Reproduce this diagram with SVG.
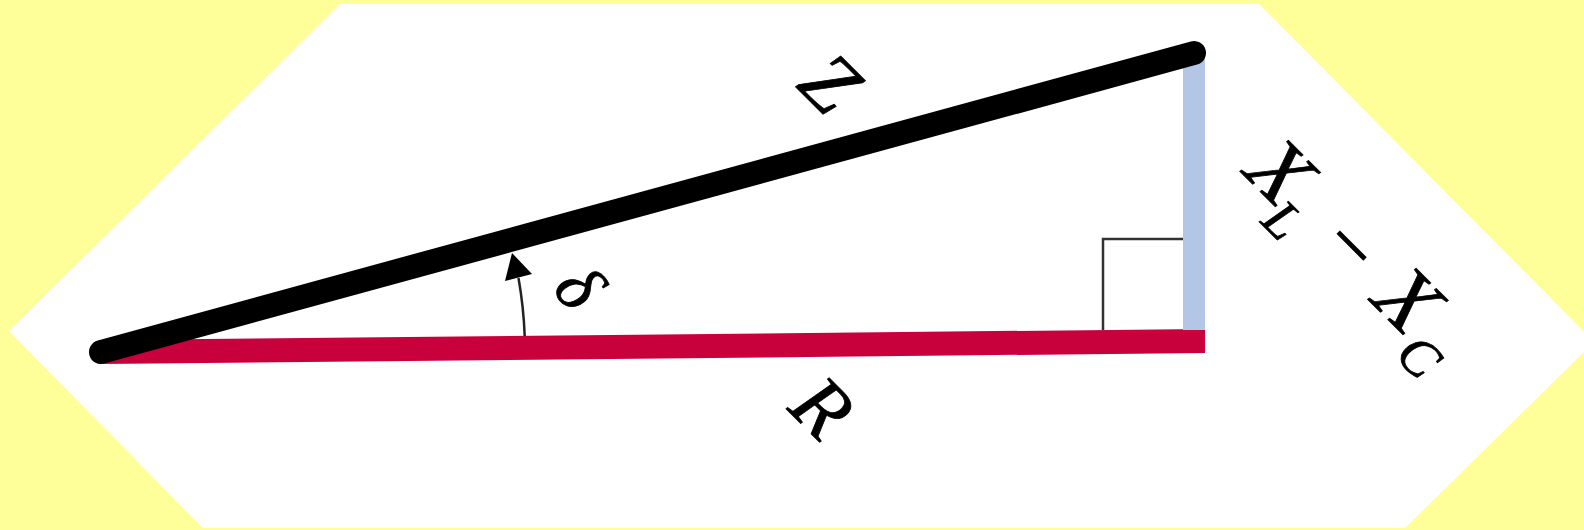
<svg xmlns="http://www.w3.org/2000/svg" width="1584" height="530" viewBox="0 0 1584 530">
<style>
.lbl{font-family:"Liberation Serif","Times New Roman",serif;font-style:italic;fill:#000;stroke:#000;stroke-width:0.8;}
</style>
<rect x="0" y="0" width="1584" height="530" fill="#FFFF99"/>
<polygon points="340,4 1259,4 1594,342 1405,528 203,528 9,331" fill="#FFFFFF"/>
<g id="connectors">
  <polygon id="R-side" points="100,340 1205,329 1205,353 100,364" fill="#C8003C"/>
  <rect id="X-side" x="1183" y="55" width="22" height="275" fill="#B4C6E6"/>
  <line id="Z-side" x1="101" y1="352" x2="1194" y2="53" stroke="#000" stroke-width="24" stroke-linecap="round"/>
  <polyline id="right-angle" points="1103,330 1103,239 1183,239" fill="none" stroke="#333" stroke-width="2.5"/>
  <path id="delta-arc" d="M 524.7 336 A 425 425 0 0 0 518.5 278" fill="none" stroke="#222" stroke-width="2.5"/>
  <polygon id="delta-head" points="512,253 532,274 505,281" fill="#000"/>
</g>
<g id="label-Z" transform="translate(830,83) rotate(45)">
  <text class="lbl" x="0" y="27" font-size="82" text-anchor="middle">Z</text>
</g>
<g id="label-R" transform="translate(822,408) rotate(45)">
  <text class="lbl" x="0" y="26" font-size="80" text-anchor="middle">R</text>
</g>
<g id="label-delta" transform="translate(577,289) rotate(50)">
  <text class="lbl" x="0" y="20" font-size="70" text-anchor="middle">δ</text>
</g>
<g id="label-X" transform="translate(1280,172) rotate(45)">
  <text class="lbl" x="0" y="28" font-size="86" text-anchor="middle">X</text>
  <text class="lbl" x="36" y="50" font-size="54" text-anchor="middle">L</text>
  <text class="lbl" x="102" y="28" font-size="80" text-anchor="middle" font-style="normal">−</text>
  <text class="lbl" x="181" y="28" font-size="86" text-anchor="middle">X</text>
  <text class="lbl" x="229" y="50" font-size="54" text-anchor="middle">C</text>
</g>
</svg>
